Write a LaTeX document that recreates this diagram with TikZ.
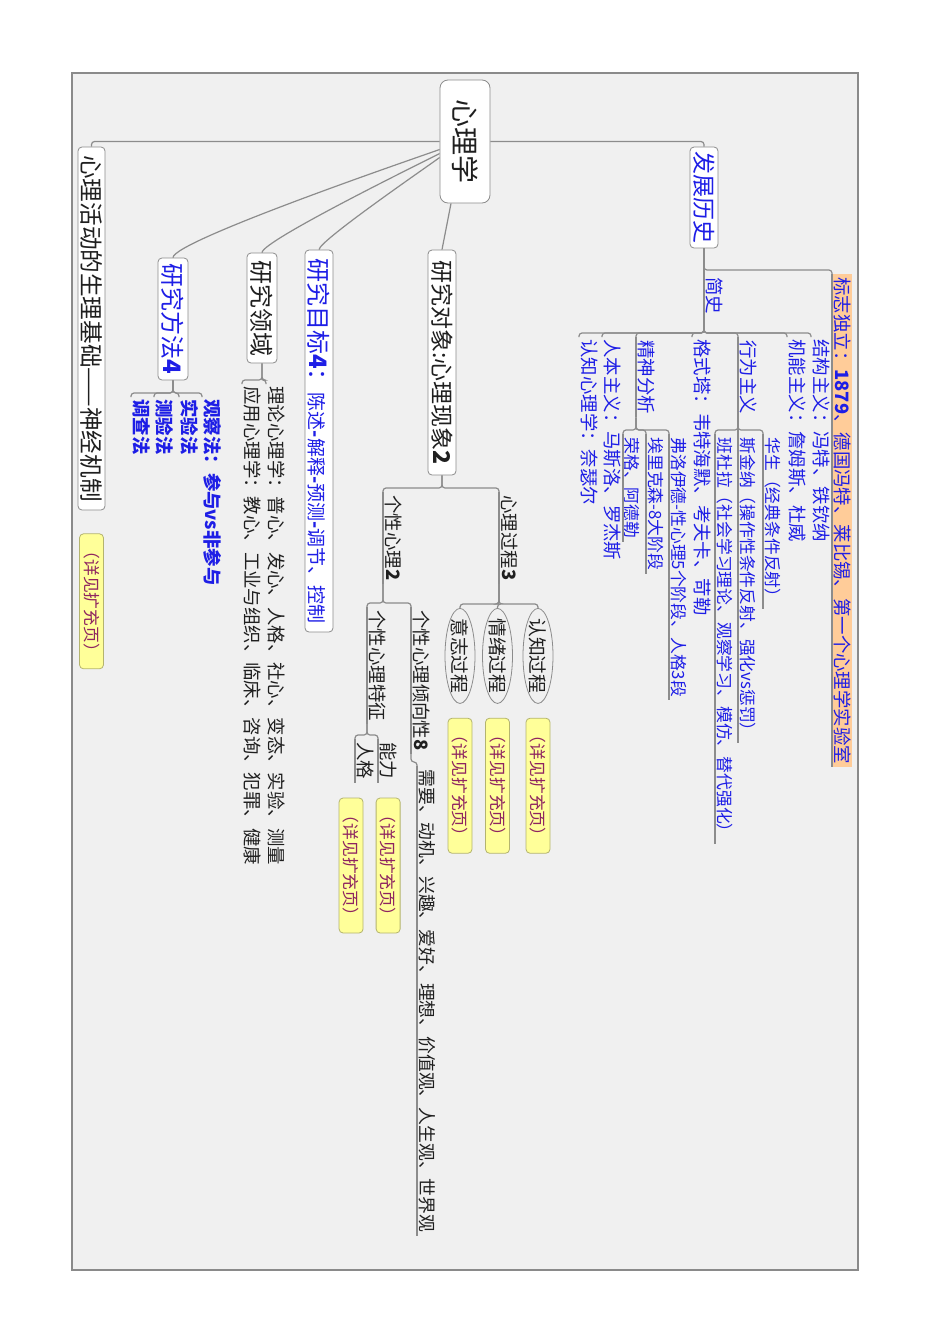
\documentclass[tikz,border=0pt]{standalone}
\usepackage{fontspec}
\setmainfont{Noto Sans CJK SC}
\usetikzlibrary{shapes.geometric,positioning}
\definecolor{paper}{HTML}{F0F0F0}
\definecolor{framegray}{HTML}{8A8A8A}
\definecolor{linegray}{HTML}{8C8C8C}
\definecolor{mapblue}{HTML}{1E1EE6}
\definecolor{notefill}{HTML}{FFFF99}
\definecolor{noteline}{HTML}{B4B46E}
\definecolor{notetext}{HTML}{8E2460}
\definecolor{highlight}{HTML}{FFCC99}
\tikzset{
    box/.style={draw=linegray,fill=white,rounded corners=2pt,inner sep=1pt,text=black!88},
    link/.style={draw=linegray,line width=0.6pt,rounded corners=1.5pt},
    leaf/.style={anchor=south west,inner xsep=1pt,inner ysep=0.6pt,text=black!88,font=\fontsize{9.2}{11}\selectfont},
    topic/.style={leaf,inner xsep=1.5pt,append after command={(\tikzlastnode.south west) edge[link] (\tikzlastnode.south east)}},
    minor/.style={font=\fontsize{8.4}{10}\selectfont},
    oval/.style={ellipse,draw=linegray,fill=paper,anchor=west,inner xsep=-2pt,inner ysep=0.6pt,minimum height=15pt,text=black!88,font=\fontsize{9.4}{11}\selectfont},
    note/.style={draw=noteline,fill=notefill,rounded corners=2pt,text=notetext,minimum width=67.5pt,minimum height=12pt,inner xsep=3pt,inner ysep=0pt,font=\fontsize{8.4}{10}\selectfont},
    hist/.style={text=mapblue}
}

\begin{document}
\begin{tikzpicture}[x=0.5pt,y=0.5pt]
\begin{scope}[rotate=-90,transform shape]
    \useasboundingbox (0,0) rectangle (1344,950);
    \fill[white] (0,0) rectangle (1344,950);
    \filldraw[fill=paper,draw=framegray,line width=0.8pt] (73,72) rectangle (1270,858);

    % main topics
    \node[box,rounded corners=4pt,minimum width=61.5pt,minimum height=25pt,font=\fontsize{14}{16}\selectfont] (xinli) at (141.5,465) {心理学};
    \node[box,hist,minimum width=50.5pt,minimum height=14pt,font=\fontsize{11.5}{13}\selectfont] (fazhan) at (197.5,704) {发展历史};
    \node[box,minimum width=112.5pt,minimum height=14pt,font=\fontsize{11.5}{13}\selectfont] (duixiang) at (362.5,442) {研究对象:心理现象\textbf{2}};
    \node[box,hist,minimum width=191pt,minimum height=14pt,font=\fontsize{12}{14}\selectfont] (mubiao) at (441,319) {研究目标\textbf{4}：{\fontsize{9.5}{11}\selectfont 陈述\textbf{-}解释\textbf{-}预测\textbf{-}调节、控制}};
    \node[box,minimum width=55pt,minimum height=15pt,font=\fontsize{12}{14}\selectfont] (lingyu) at (308,262) {研究领域};
    \node[box,hist,minimum width=61pt,minimum height=15pt,font=\fontsize{12}{14}\selectfont] (fangfa) at (319,173) {研究方法\textbf{4}};
    \node[box,minimum width=181.5pt,minimum height=13.5pt,font=\fontsize{11.8}{13}\selectfont] (shengli) at (328.5,91.5) {心理活动的生理基础——神经机制};

    % history
    \node[topic,hist] (jianshi) at (274,704) {简史};
    \node[topic,hist,fill=highlight] (biaozhi) at (274,832) {标志独立：\textbf{1879}、德国冯特、莱比锡、第一个心理学实验室};
    \node[leaf,hist] (jiegou) at (337,811) {结构主义：冯特、铁钦纳};
    \node[leaf,hist] (jineng) at (337,787) {机能主义：詹姆斯、杜威};
    \node[topic,hist] (xingwei) at (337,738) {行为主义};
    \node[leaf,hist] (geshi) at (337,692) {格式塔：韦特海默、考夫卡、苛勒};
    \node[topic,hist] (jingshen) at (337,636) {精神分析};
    \node[leaf,hist] (renben) at (337,602) {人本主义：马斯洛、罗杰斯};
    \node[leaf,hist] (renzhixl) at (337,579) {认知心理学：奈瑟尔};
    \node[topic,minor,hist] (huasheng) at (434,763) {华生（经典条件反射）};
    \node[topic,minor,hist] (sijinna) at (434,738) {斯金纳（操作性条件反射、强化vs惩罚）};
    \node[topic,minor,hist] (bandula) at (434,715) {班杜拉（社会学习理论、观察学习、模仿、替代强化）};
    \node[topic,minor,hist] (fuluoyide) at (434,669) {弗洛伊德-性心理5个阶段、人格3段};
    \node[topic,minor,hist] (ailikesen) at (434,646) {埃里克森-8大阶段};
    \node[topic,minor,hist] (rongge) at (434,623) {荣格、阿德勒};

    % object of study
    \node[topic] (guocheng) at (492,499) {心理过程\textbf{3}};
    \node[topic] (gexing) at (492,383) {个性心理\textbf{2}};
    \node[oval] (renzhi) at (608,538) {认知过程};
    \node[oval] (qingxu) at (608,497.5) {情绪过程};
    \node[oval] (yizhi) at (608,460) {意志过程};
    \node[topic] (qingxiang) at (607,411) {个性心理倾向性\textbf{8}};
    \node[topic] (tezheng) at (607,367) {个性心理特征};
    \node[topic,font=\fontsize{8.9}{10}\selectfont] (xuyao) at (766,417) {需要、动机、兴趣、爱好、理想、价值观、人生观、世界观};
    \node[topic] (nengli) at (739,378) {能力};
    \node[topic] (renge) at (739,355) {人格};

    % fields and methods
    \node[leaf] (lilun) at (384,266) {理论心理学：普心、发心、人格、社心、变态、实验、测量};
    \node[leaf] (yingyong) at (384,242) {应用心理学：教心、工业与组织、临床、咨询、犯罪、健康};
    \node[leaf,hist] (guancha) at (397,202) {\textbf{观察法：参与vs非参与}};
    \node[leaf,hist] (shiyan) at (397,179) {\textbf{实验法}};
    \node[leaf,hist] (ceyan) at (397,154) {\textbf{测验法}};
    \node[leaf,hist] (diaocha) at (397,131) {\textbf{调查法}};

    % notes
    \node[note,right=7pt of renzhi] (renzhinote) {（详见扩充页）};
    \node[note,right=7pt of qingxu] (qingxunote) {（详见扩充页）};
    \node[note,right=7pt of yizhi] (yizhinote) {（详见扩充页）};
    \node[note,right=7.5pt of nengli] (nenglinote) {（详见扩充页）};
    \node[note,right=7.5pt of renge,yshift=-7pt] (rengenote) {（详见扩充页）};
    \node[note,right=11.5pt of shengli] (shenglinote) {（详见扩充页）};

    % connectors
    \draw[link] (xinli.north) |- (fazhan.west);
    \draw[link] (xinli.south) |- (shengli.west);
    \draw[link] ([yshift=-7pt]xinli.east) -- (duixiang.west);
    \draw[link] ([xshift=4pt]xinli.south) to[out=-70,in=180,looseness=0.15] (fangfa.west);
    \draw[link] ([xshift=6pt]xinli.south) to[out=-62,in=180,looseness=0.15] (lingyu.west);
    \draw[link] ([xshift=8pt]xinli.south) to[out=-52,in=180,looseness=0.15] (mubiao.west);
    \foreach \p/\c in {fazhan.east/jianshi, fazhan.east/biaozhi,
                       jianshi.south east/jiegou, jianshi.south east/jineng, jianshi.south east/xingwei,
                       jianshi.south east/geshi, jianshi.south east/jingshen, jianshi.south east/renben,
                       jianshi.south east/renzhixl,
                       xingwei.south east/huasheng, xingwei.south east/sijinna, xingwei.south east/bandula,
                       jingshen.south east/fuluoyide, jingshen.south east/ailikesen, jingshen.south east/rongge,
                       duixiang.east/guocheng, duixiang.east/gexing,
                       gexing.south east/qingxiang, gexing.south east/tezheng,
                       qingxiang.south east/xuyao,
                       tezheng.south east/nengli, tezheng.south east/renge,
                       lingyu.east/lilun, lingyu.east/yingyong,
                       fangfa.east/guancha, fangfa.east/shiyan, fangfa.east/ceyan, fangfa.east/diaocha}
        \draw[link] (\p) -| ([xshift=-2pt]\c.south west) -- (\c.south west);
    \foreach \c in {renzhi,qingxu,yizhi}
        \draw[link] (guocheng.south east) -| ([xshift=-2pt]\c.west) -- (\c.west);
\end{scope}
\end{tikzpicture}
\end{document}
